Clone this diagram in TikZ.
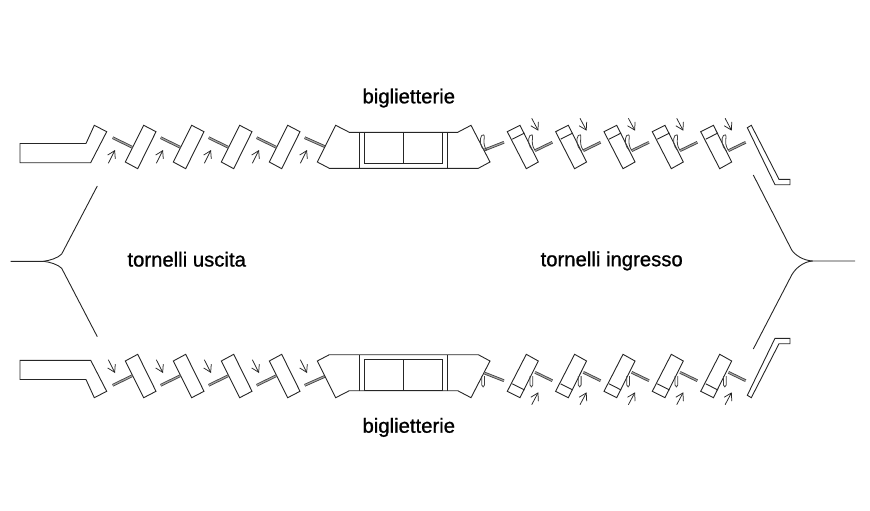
\documentclass[tikz,border=0pt]{standalone}
\usepackage{fontspec}
\newfontfamily\labelfont[FakeBold=1]{Liberation Sans}
\usetikzlibrary{arrows.meta}
\tikzset{
    plan/.style={line width=0.9pt,black!85,line join=miter},
    arm/.style={double=black!35,line width=0.8pt,double distance=1.1pt,black!75},
    flow/.style={line width=0.75pt,black!85,-{Straight Barb[length=2.5mm,width=3mm]}},
    loopline/.style={line width=0.8pt,black!75},
    label/.style={font=\labelfont\fontsize{20.3}{24}\selectfont,inner sep=0pt,anchor=base},
}
\newcommand{\halfplan}{
    % left wall block
    \draw[plan] (20,143.5) -- (86,143.5) -- (94.3,125.3) -- (106.7,131.7) -- (90.7,162.7) -- (20,162.7) -- cycle;
    % exit side
    \foreach \dx in {0,48,96,144} {
        \begin{scope}[xshift=\dx pt]
            \draw[plan] (143.7,125.3) -- (156,131.7) -- (137.7,168.7) -- (125.3,162) -- cycle;
            \draw[arm] (132.3,147.3) -- (112.7,137.7);
            \draw[flow] (108.3,163.3) -- (115,150);
        \end{scope}
    }
    \draw[arm] (325,146.7) -- (304.7,137.7);
    \draw[flow] (300.3,163.3) -- (307,150);
    % ticket office
    \draw[plan] (335.7,125.3) -- (349.3,132.3) -- (457.7,132.3) -- (471,125.3) -- (490,162) -- (478.3,168.3) -- (329.3,168.3) -- (317.3,162) -- cycle;
    \draw[plan] (359.7,132.3) -- (359.7,168.3);
    \draw[plan] (447.7,132.3) -- (447.7,168.3);
    \draw[plan] (364,132.3) rectangle (442.7,163.3);
    \draw[plan] (403.3,132.3) -- (403.3,163.3);
    \draw[arm] (484.3,150) -- (504,142.3);
    % entry side
    \foreach \dx in {0,48.3,96.7,145,193.4} {
        \begin{scope}[xshift=\dx pt]
            \draw[plan] (507.3,131.7) -- (520,125.3) -- (538.3,162) -- (526.3,168.7) -- cycle;
            \draw[plan] (512.3,139.2) -- (524.5,133);
            \draw[arm] (535,150.7) -- (552.3,142.3);
            \draw[flow] (531.7,118.3) -- (538.3,130.7);
        \end{scope}
    }
    % right wall block
    \draw[plan] (747.3,127.7) -- (751.3,125.3) -- (779,179.3) -- (790,179.3) -- (790,184.7) -- (775,184.7) -- cycle;
}
\begin{document}
\begin{tikzpicture}[x=1pt,y=-1pt]
    \useasboundingbox (0,0) rectangle (870,511);
    % top row
    \halfplan
    \foreach \dx in {-48.3,0,48.3,96.7,145,193.4} {
        \draw[loopline,xshift=\dx pt] (533,151) .. controls (528,146) and (527.5,139) .. (530,135.5) .. controls (531.5,133.5) and (533,135) .. (532.5,138) .. controls (532,142) and (532,146) .. (535,150.5);
    }
    % bottom row
    \begin{scope}[yshift=-523pt,yscale=-1]
        \halfplan
    \end{scope}
    \foreach \dx in {-48.3,0,48.3,96.7,145,193.4} {
        \draw[loopline,xshift=\dx pt] (530,376) -- (530,385) .. controls (530,387.5) and (532.8,387.5) .. (532.8,385) -- (532.8,376);
    }
    % side paths
    \draw[plan] (10.7,261.3) -- (43.3,261.3) .. controls (50,260.5) and (58,258) .. (61.7,254) -- (97.3,186);
    \draw[plan] (43.3,261.3) .. controls (50,262) and (58,264.5) .. (61.7,268.3) -- (97.3,336.7);
    \draw[plan] (855,261) -- (812.7,261) .. controls (803,260.5) and (795,255) .. (791.7,250) -- (753.3,175);
    \draw[plan] (812.7,261) .. controls (803,261.5) and (795,269) .. (791.7,275) -- (753.3,349);
    % labels
    \node[label] (ticketstop) at (408.8,103.3) {biglietterie};
    \node[label] (ticketsbottom) at (408.8,432.7) {biglietterie};
    \node[label] (exitlabel) at (186.7,266.5) {tornelli uscita};
    \node[label] (entrylabel) at (611.7,266.2) {tornelli ingresso};
\end{tikzpicture}
\end{document}
